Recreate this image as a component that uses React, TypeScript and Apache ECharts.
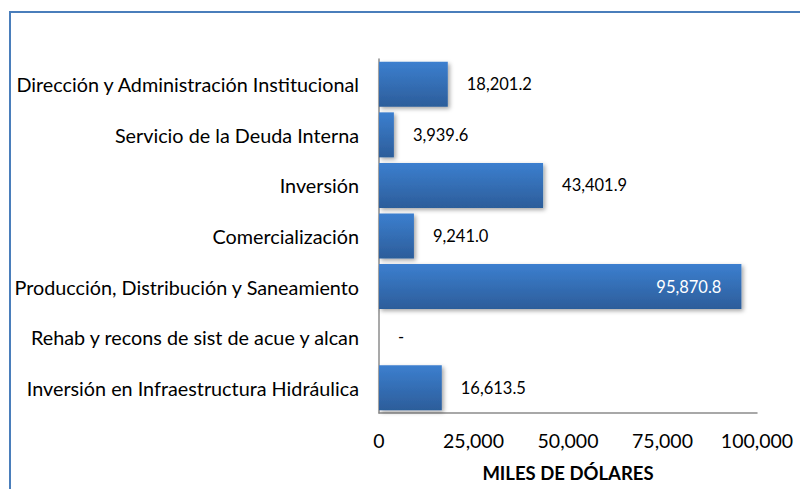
import React, { useEffect, useRef } from "react";
import * as echarts from "echarts";

const categories = [
  "Dirección y Administración Institucional",
  "Servicio de la Deuda Interna",
  "Inversión",
  "Comercialización",
  "Producción, Distribución y Saneamiento",
  "Rehab y recons de sist de acue y alcan",
  "Inversión en Infraestructura Hidráulica",
];
const values = [18201.2, 3939.6, 43401.9, 9241.0, 95870.8, 0, 16613.5];
const insideLabelIndex = 4;
const axisTitle = "MILES DE DÓLARES";
const FONT = "Lato, 'Open Sans', sans-serif";

const fmt = (v: number) =>
  v === 0
    ? "-"
    : v.toLocaleString("en-US", { minimumFractionDigits: 1, maximumFractionDigits: 1 });

export default function App() {
  const ref = useRef<HTMLDivElement>(null);
  useEffect(() => {
    if (!ref.current) return;
    const chart = echarts.init(ref.current, undefined, { renderer: "svg" });
    const grad = new echarts.graphic.LinearGradient(0, 0, 0, 1, [
      { offset: 0, color: "#3c7fcf" },
      { offset: 1, color: "#2c5d9a" },
    ]);
    chart.setOption({
      animation: false,
      graphic: [
        {
          type: "rect",
          shape: { x: 10, y: 12, width: 820, height: 500 },
          style: { fill: "none", stroke: "#4a7ebb", lineWidth: 2 },
          silent: true,
        },
      ],
      grid: { left: 379, right: 43, top: 59, bottom: 76 },
      xAxis: {
        type: "value",
        min: 0,
        max: 100000,
        interval: 25000,
        splitLine: { show: false },
        axisLine: { show: true, lineStyle: { color: "#8c8c8c", width: 1.5 } },
        axisTick: { show: false },
        axisLabel: {
          color: "#000",
          fontFamily: FONT,
          fontSize: 19.5,
          margin: 17,
          formatter: (v: number) => v.toLocaleString("en-US"),
        },
        name: axisTitle,
        nameLocation: "middle",
        nameGap: 50,
        nameTextStyle: { color: "#000", fontFamily: FONT, fontSize: 18.5, fontWeight: "bold" },
      },
      yAxis: {
        type: "category",
        inverse: true,
        data: categories,
        axisLine: { show: true, lineStyle: { color: "#8c8c8c", width: 1.5 } },
        axisTick: { show: false },
        axisLabel: { color: "#000", fontFamily: FONT, fontSize: 19.8, margin: 20 },
      },
      series: [
        {
          type: "bar",
          barCategoryGap: "11%",
          data: values.map((v, i) => ({
            value: v,
            label:
              i === insideLabelIndex
                ? { position: "insideRight", color: "#fff", distance: 20 }
                : { position: "right", color: "#000", distance: 19 },
          })),
          itemStyle: {
            color: grad,
            shadowColor: "rgba(0,0,0,0.35)",
            shadowBlur: 4,
            shadowOffsetX: 2,
            shadowOffsetY: 2,
          },
          label: {
            show: true,
            fontFamily: FONT,
            fontSize: 16.5,
            formatter: (p: any) => fmt(p.value),
          },
        },
      ],
    });
    return () => chart.dispose();
  }, []);
  return <div ref={ref} style={{ width: 800, height: 489, position: "absolute", left: 0, top: 0 }} />;
}
